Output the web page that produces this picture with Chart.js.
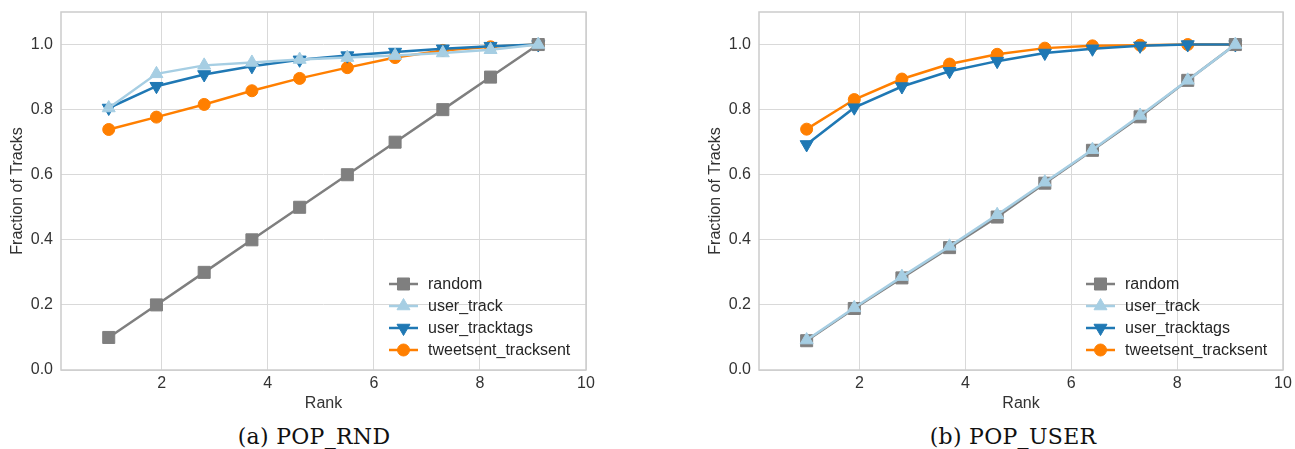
<!DOCTYPE html>
<html>
<head>
<meta charset="utf-8">
<script src="https://cdn.jsdelivr.net/npm/chart.js@4.4.1/dist/chart.umd.min.js"></script>
<style>
  html, body { margin: 0; padding: 0; background: #fff; }
  #page { position: relative; width: 1295px; height: 449px; overflow: hidden; }
  .box { position: absolute; top: 0; height: 413px; }
  .cap {
    position: absolute; top: 424px; line-height: 26px;
    font-family: "DejaVu Serif", serif; font-size: 22px; color: #111;
    white-space: nowrap; transform: translateX(-50%); letter-spacing: 0.3px;
  }
</style>
</head>
<body>
<div id="page">
  <div class="box" style="left:0;width:600px"><canvas id="chartRnd"></canvas></div>
  <div class="box" style="left:698px;width:597px"><canvas id="chartUser"></canvas></div>
  <div class="cap" style="left:314px">(a) POP_RND</div>
  <div class="cap" style="left:1013px">(b) POP_USER</div>
</div>

<script>
/* ---------- data ---------- */
const RANK = [1, 1.9, 2.8, 3.7, 4.6, 5.5, 6.4, 7.3, 8.2, 9.1];
const X_TICKS = [2, 4, 6, 8, 10];
const Y_TICKS = [0, 0.2, 0.4, 0.6, 0.8, 1.0];
const SERIES_NAMES = ['random', 'user_track', 'user_tracktags', 'tweetsent_tracksent'];

// (a) POP_RND
const RND_RANDOM     = [0.10, 0.20, 0.30, 0.40, 0.50, 0.60, 0.70, 0.80, 0.90, 1.00];
const RND_USER_TRACK = [0.805, 0.910, 0.936, 0.945, 0.954, 0.960, 0.966, 0.974, 0.984, 1.00];
const RND_TRACKTAGS  = [0.805, 0.872, 0.908, 0.933, 0.953, 0.966, 0.977, 0.987, 0.995, 1.00];
const RND_TWEETSENT  = [0.739, 0.777, 0.816, 0.858, 0.896, 0.929, 0.960, 0.982, 0.993, 1.00];

// (b) POP_USER
const USER_RANDOM     = [0.090, 0.189, 0.283, 0.376, 0.470, 0.574, 0.675, 0.778, 0.890, 1.00];
const USER_USER_TRACK = [0.092, 0.191, 0.287, 0.380, 0.477, 0.577, 0.677, 0.782, 0.890, 1.00];
const USER_TRACKTAGS  = [0.693, 0.806, 0.871, 0.918, 0.949, 0.974, 0.987, 0.996, 1.00, 1.00];
const USER_TWEETSENT  = [0.740, 0.831, 0.894, 0.940, 0.970, 0.989, 0.996, 0.998, 1.00, 1.00];

/* ---------- styles ---------- */
// order: lower = drawn on top
const STYLES = [
  { color: '#7f7f7f', pointStyle: 'rect',     rotation: 0,   radius: 8.5, order: 1 },
  { color: '#a6cee3', pointStyle: 'triangle', rotation: 0,   radius: 7.5, order: 0 },
  { color: '#1f78b4', pointStyle: 'triangle', rotation: 180, radius: 7.5, order: 2 },
  { color: '#ff7f00', pointStyle: 'circle',   rotation: 0,   radius: 6,   order: 3 }
];

const FONT = { family: '"Liberation Sans", Arial, sans-serif', size: 16 };
const TEXT = '#333333';
const GRID = '#d9d9d9';

/* ---------- plugins ---------- */
const frame = {
  id: 'frame',
  beforeDatasetsDraw(chart) {
    const { ctx, chartArea: a } = chart;
    ctx.save();
    ctx.strokeStyle = '#cccccc';
    ctx.lineWidth = 1.5;
    ctx.strokeRect(a.left, a.top, a.right - a.left, a.bottom - a.top);
    ctx.restore();
  }
};

// legend drawn inside the plot area, lower right
const innerLegend = {
  id: 'innerLegend',
  afterDraw(chart) {
    const { ctx, chartArea: a } = chart;
    ctx.save();
    chart.data.datasets.forEach((ds, i) => {
      const st = STYLES[i];
      const y = a.bottom - 86 + i * 22;
      const x0 = a.right - 197, x1 = a.right - 168;
      ctx.strokeStyle = st.color;
      ctx.fillStyle = st.color;
      ctx.lineWidth = 2.5;
      ctx.beginPath();
      ctx.moveTo(x0, y);
      ctx.lineTo(x1, y);
      ctx.stroke();
      ctx.lineWidth = 1;
      Chart.helpers.drawPoint(ctx, {
        pointStyle: st.pointStyle, rotation: st.rotation, radius: st.radius, borderWidth: 1
      }, (x0 + x1) / 2, y);
      ctx.fillStyle = '#262626';
      ctx.font = FONT.size + 'px ' + FONT.family;
      ctx.textAlign = 'left';
      ctx.textBaseline = 'middle';
      ctx.fillText(ds.label, a.right - 158, y + 1);
    });
    ctx.restore();
  }
};

/* ---------- charts ---------- */
function makeChart(id, values, padRight) {
  const datasets = SERIES_NAMES.map((name, i) => {
    const st = STYLES[i];
    return {
      label: name,
      data: RANK.map((x, k) => ({ x: x, y: values[i][k] })),
      borderColor: st.color,
      backgroundColor: st.color,
      pointBackgroundColor: st.color,
      pointBorderColor: st.color,
      pointStyle: st.pointStyle,
      pointRotation: st.rotation,
      pointRadius: st.radius,
      pointHoverRadius: st.radius,
      pointBorderWidth: 1,
      borderWidth: 2.5,
      tension: 0,
      fill: false,
      order: st.order
    };
  });

  return new Chart(document.getElementById(id), {
    type: 'line',
    data: { datasets },
    plugins: [frame, innerLegend],
    options: {
      responsive: true,
      maintainAspectRatio: false,
      animation: false,
      layout: { padding: { top: 12, right: padRight, left: 0, bottom: 0 } },
      plugins: { legend: { display: false }, tooltip: { enabled: false } },
      scales: {
        x: {
          type: 'linear',
          min: 0.1,
          max: 10,
          afterBuildTicks: s => { s.ticks = X_TICKS.map(v => ({ value: v })); },
          afterFit: s => { s.height = 43; s.paddingLeft = 0; s.paddingRight = 0; },
          grid: { color: GRID, lineWidth: 1, drawTicks: false },
          border: { display: false },
          ticks: { font: FONT, color: TEXT, padding: 4, callback: v => String(v) },
          title: { display: true, text: 'Rank', font: FONT, color: TEXT, padding: { top: 0, bottom: 0 } }
        },
        y: {
          type: 'linear',
          min: 0,
          max: 1.1,
          afterBuildTicks: s => { s.ticks = Y_TICKS.map(v => ({ value: v })); },
          afterFit: s => { s.width = 61; s.paddingTop = 0; s.paddingBottom = 0; },
          grid: { color: GRID, lineWidth: 1, drawTicks: false },
          border: { display: false },
          ticks: { font: FONT, color: TEXT, padding: 8, callback: v => Number(v).toFixed(1) },
          title: { display: true, text: 'Fraction of Tracks', font: FONT, color: TEXT, padding: { top: 8.4, bottom: 0 } }
        }
      }
    }
  });
}

makeChart('chartRnd', [RND_RANDOM, RND_USER_TRACK, RND_TRACKTAGS, RND_TWEETSENT], 14);
makeChart('chartUser', [USER_RANDOM, USER_USER_TRACK, USER_TRACKTAGS, USER_TWEETSENT], 12);
</script>
</body>
</html>
